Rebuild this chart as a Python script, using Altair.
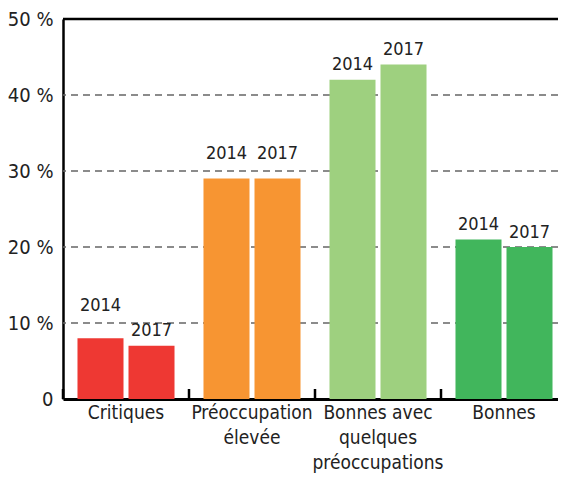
import altair as alt
import pandas as pd
import math

categories = ["Critiques", "Préoccupation|élevée", "Bonnes avec|quelques|préoccupations", "Bonnes"]
years = ["2014", "2017"]
v2014 = [8, 29, 42, 21]
v2017 = [7, 29, 44, 20]
colors = ["#EE3833", "#F79532", "#9ED07F", "#41B65C"]
grid_values = [10, 20, 30, 40]
top_value = [50]

rows = []
for c, a, b, col in zip(categories, v2014, v2017, colors):
    for y, v in zip(years, [a, b]):
        g = math.ceil(v / 10) * 10
        ly = g + 1.05 if (g - v) <= 2.5 and g > v else v + 0.7
        rows.append({"cat": c, "year": y, "value": v, "color": col, "ly": ly})
df = pd.DataFrame(rows)

FONT = "DejaVu Sans Condensed, Liberation Sans, sans-serif"
H = 380
W = 495

xscale = alt.Scale(paddingInner=0, paddingOuter=0, range=[0, 504])
yscale = alt.Scale(domain=[0, 50], nice=False)
offscale = alt.Scale(paddingInner=0.098, paddingOuter=0.284)

xaxis = alt.Axis(title=None, labelAngle=0, ticks=False, labelFontSize=19,
                 labelFont=FONT, labelColor="#222222", labelPadding=4,
                 labelLineHeight=25, domainColor="black", domainWidth=3,
                 labelExpr="split(datum.label, '|')")
yaxis = alt.Axis(title=None, values=[0, 10, 20, 30, 40, 50], grid=False, ticks=False,
                 labelFontSize=20, labelFont=FONT, labelColor="#222222",
                 labelPadding=10, domainColor="black", domainWidth=2.5,
                 labelExpr="datum.value == 0 ? '0' : datum.value + ' %'")

grid = alt.Chart(pd.DataFrame({"g": grid_values})).mark_rule(
    color="#666666", strokeWidth=1.6, strokeDash=[7, 5]
).encode(y=alt.Y("g:Q", scale=yscale, axis=yaxis))

topline = alt.Chart(pd.DataFrame({"t": top_value})).mark_rule(
    color="black", strokeWidth=2.5
).encode(y=alt.Y("t:Q", scale=yscale, axis=yaxis))

bars = alt.Chart(df).mark_bar().encode(
    x=alt.X("cat:N", sort=categories, scale=xscale, axis=xaxis),
    xOffset=alt.XOffset("year:N", scale=offscale),
    y=alt.Y("value:Q", scale=yscale, axis=yaxis),
    color=alt.Color("color:N", scale=None),
)

labels = alt.Chart(df).mark_text(
    baseline="bottom", fontSize=18, font=FONT, color="#222222"
).encode(
    x=alt.X("cat:N", sort=categories, scale=xscale, axis=xaxis),
    xOffset=alt.XOffset("year:N", scale=offscale),
    y=alt.Y("ly:Q", scale=yscale, axis=yaxis),
    text="year:N",
)

ticks = alt.Chart(pd.DataFrame({"cat": categories})).mark_rule(
    color="black", strokeWidth=2.5
).encode(
    x=alt.X("cat:N", sort=categories, scale=xscale, bandPosition=0, axis=xaxis),
    y=alt.value(H - 10),
    y2=alt.value(H),
)

chart = alt.layer(grid, bars, labels, ticks, topline).properties(
    width=W, height=H,
    autosize=alt.AutoSizeParams(type="none"),
    padding={"left": 55, "top": 11, "right": 0, "bottom": 75},
).configure_view(stroke=None)

chart.save("out.html", embed_options={"renderer": "svg", "actions": False})
